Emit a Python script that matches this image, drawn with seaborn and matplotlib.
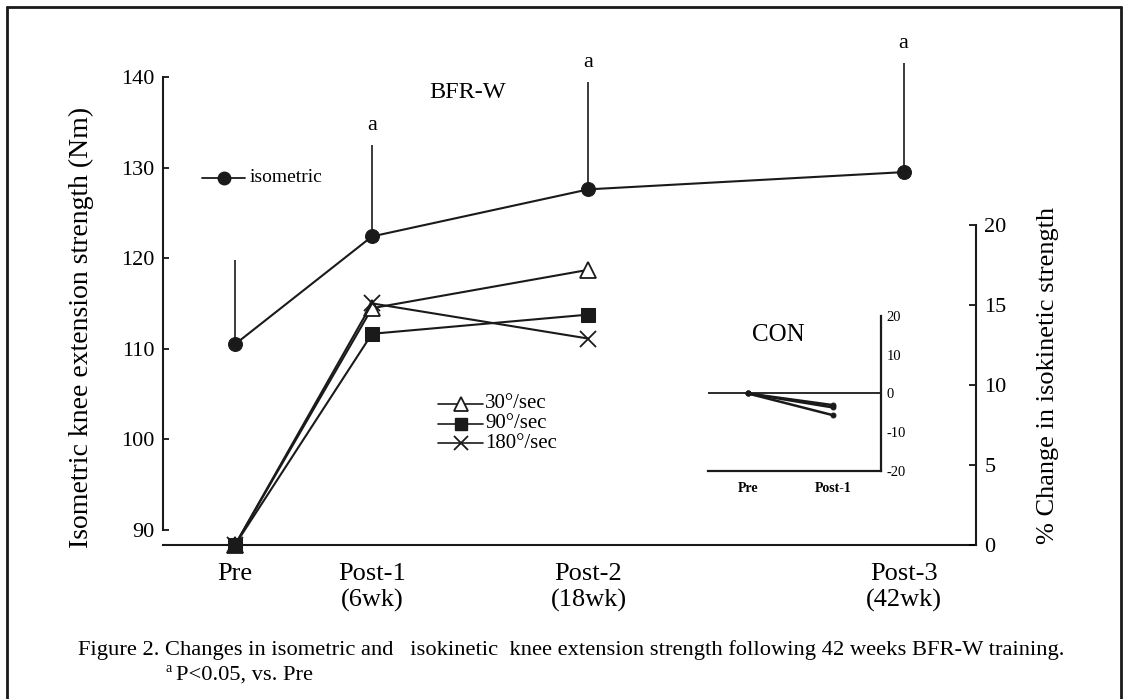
import matplotlib
matplotlib.use("Agg")
import matplotlib.pyplot as plt
from matplotlib.lines import Line2D
import seaborn as sns
import pandas as pd

# ---------------- data ----------------
categories = ["Pre", "Post-1", "Post-2", "Post-3"]
tick_labels = ["Pre", "Post-1\n(6wk)", "Post-2\n(18wk)", "Post-3\n(42wk)"]
x_pos = [0.0, 1.0, 2.58, 4.88]          # category placement along the time axis

iso_mean = [110.5, 122.4, 127.6, 129.5]  # Nm
iso_sd = [9.3, 10.1, 11.9, 12.1]         # upper SD bars
iso_sig = [False, True, True, True]      # "a" P<0.05 vs Pre

kin_labels = ["30°/sec", "90°/sec", "180°/sec"]
kin_30 = [0.0, 14.8, 17.2]               # % change, Pre..Post-2
kin_90 = [0.0, 13.2, 14.4]
kin_180 = [0.0, 15.1, 12.9]

con_categories = ["Pre", "Post-1"]
con_30 = [0.0, -3.0]
con_90 = [0.0, -3.6]
con_180 = [0.0, -5.6]

left_ticks = [90, 100, 110, 120, 130, 140]
right_ticks = [0, 5, 10, 15, 20]
con_ticks = [-20, -10, 0, 10, 20]

# ---------------- styling ----------------
sns.set_theme(style="white")
plt.rcParams["font.family"] = ["Liberation Serif", "DejaVu Serif"]
plt.rcParams["text.color"] = "black"
plt.rcParams["axes.labelcolor"] = "black"
plt.rcParams["xtick.color"] = "black"
plt.rcParams["ytick.color"] = "black"

W, H = 1128, 699
def fx(px):
    return px / W
def fy(py):
    return 1 - py / H

fig = plt.figure(figsize=(W / 100, H / 100), dpi=100)
fig.patch.set_facecolor("white")

# frame border (top, left, right)
fig.add_artist(Line2D([fx(7), fx(1121)], [fy(7), fy(7)], transform=fig.transFigure, color="k", lw=2))
fig.add_artist(Line2D([fx(7), fx(7)], [fy(7), fy(699)], transform=fig.transFigure, color="k", lw=2))
fig.add_artist(Line2D([fx(1121), fx(1121)], [fy(7), fy(699)], transform=fig.transFigure, color="k", lw=2))

# main axes
ax = fig.add_axes([fx(163), fy(545), fx(976) - fx(163), fy(30) - fy(545)])
ax.set_facecolor("none")
px_per_nm = (530 - 77) / 50
ax.set_ylim(90 - 15 / px_per_nm, 140 + 47 / px_per_nm)
ax.set_xlim(0 - 72 / 137, (976 - 235) / 137)

for s in ["top", "right"]:
    ax.spines[s].set_visible(False)
ax.spines["left"].set_bounds(90, 140)
for s in ["left", "bottom"]:
    ax.spines[s].set_color("k")
    ax.spines[s].set_linewidth(1.5)
ax.set_yticks(left_ticks)
ax.tick_params(axis="y", direction="in", length=4, width=1.2, labelsize=16, pad=6, left=True)
ax.set_xticks(x_pos)
ax.set_xticklabels(tick_labels, fontsize=19)
ax.tick_params(axis="x", length=0, pad=13)
for lbl in ax.get_xticklabels():
    lbl.set_linespacing(1.2)

# isometric error bars (upper only)
ax.vlines(x_pos, iso_mean, [m + s for m, s in zip(iso_mean, iso_sd)], color="k", lw=1.2, zorder=2)
for x, m, s, sig in zip(x_pos, iso_mean, iso_sd, iso_sig):
    if sig:
        ax.annotate("a", (x, m + s), xytext=(0, 7), textcoords="offset points",
                    ha="center", va="bottom", fontsize=16)

iso_df = pd.DataFrame({"x": x_pos, "y": iso_mean})
sns.lineplot(data=iso_df, x="x", y="y", ax=ax, color="k", lw=1.5, marker="o", markersize=10,
             markeredgecolor="k", markerfacecolor="k", clip_on=False, zorder=3)
ax.set_xlabel("")
ax.set_ylabel("")

# right axis (isokinetic % change)
ax2 = ax.twinx()
ax2.set_facecolor("none")
ax2.set_ylim(0, (545 - 30) / 16)
for s in ["top", "left", "bottom"]:
    ax2.spines[s].set_visible(False)
ax2.spines["right"].set_bounds(0, 20)
ax2.spines["right"].set_color("k")
ax2.spines["right"].set_linewidth(1.5)
ax2.set_yticks(right_ticks)
ax2.tick_params(axis="y", direction="in", length=5, width=1.2, labelsize=16, pad=6, right=True)

kin_x = x_pos[:3]
kin_series = [kin_30, kin_90, kin_180]
kin_styles = [dict(marker="^", markersize=11, markerfacecolor="white", markeredgecolor="k", markeredgewidth=1.3),
              dict(marker="s", markersize=10, markerfacecolor="k", markeredgecolor="k"),
              dict(marker="x", markersize=11, markeredgecolor="k", markeredgewidth=1.3)]
for vals, st in zip(kin_series, kin_styles):
    d = pd.DataFrame({"x": kin_x, "y": vals})
    sns.lineplot(data=d, x="x", y="y", ax=ax2, color="k", lw=1.5, clip_on=False, zorder=3, **st)
ax2.set_xlabel("")
ax2.set_ylabel("")
ax.set_xlim(0 - 72 / 137, (976 - 235) / 137)

# axis titles
fig.text(fx(81), fy(327), "Isometric knee extension strength (Nm)", rotation=90,
         ha="center", va="center", fontsize=20)
fig.text(fx(1048), fy(375), "% Change in isokinetic strength", rotation=90,
         ha="center", va="center", fontsize=19)
fig.text(fx(468), fy(93), "BFR-W", ha="center", va="center", fontsize=17.5)
fig.text(fx(778), fy(335), "CON", ha="center", va="center", fontsize=18)

# isometric legend
fig.add_artist(Line2D([fx(202), fx(224), fx(245)], [fy(178)] * 3, transform=fig.transFigure,
                      color="k", lw=1.3, marker="o", markersize=9, markevery=[1]))
fig.text(fx(250), fy(178), "isometric", ha="left", va="center", fontsize=14)

# isokinetic legend
for i, (lab, st) in enumerate(zip(kin_labels, kin_styles)):
    yy = 404 + i * 19.5
    st2 = dict(st)
    st2["markersize"] = st2["markersize"] - 1.5
    fig.add_artist(Line2D([fx(438), fx(461), fx(483)], [fy(yy)] * 3, transform=fig.transFigure,
                          color="k", lw=1.2, markevery=[1], **st2))
    fig.text(fx(485), fy(yy), lab, ha="left", va="center", fontsize=15)

# CON inset
ax3 = fig.add_axes([fx(708), fy(471), fx(881) - fx(708), fy(316) - fy(471)])
ax3.set_facecolor("none")
ax3.set_ylim(-20, 20)
ax3.set_xlim(-40 / 85, 133 / 85)
for s in ["top", "left"]:
    ax3.spines[s].set_visible(False)
for s in ["right", "bottom"]:
    ax3.spines[s].set_color("k")
    ax3.spines[s].set_linewidth(1.6)
ax3.axhline(0, color="k", lw=1.3, zorder=1)
ax3.yaxis.tick_right()
ax3.set_yticks(con_ticks)
ax3.set_yticklabels([str(t) for t in con_ticks], fontsize=10.5)
ax3.tick_params(axis="y", length=0, pad=4)
ax3.set_xticks([0, 1])
ax3.set_xticklabels(con_categories, fontsize=10, fontweight="bold")
ax3.tick_params(axis="x", length=0, pad=8)
for vals in [con_30, con_90, con_180]:
    d = pd.DataFrame({"x": [0, 1], "y": vals})
    sns.lineplot(data=d, x="x", y="y", ax=ax3, color="k", lw=1.8, marker="o", markersize=3.5,
                 markeredgecolor="k", zorder=3)
ax3.set_xlabel("")
ax3.set_ylabel("")

# caption
fig.text(fx(78), fy(650), "Figure 2. Changes in isometric and   isokinetic  knee extension strength following 42 weeks BFR-W training.",
         ha="left", va="center", fontsize=16.2)
fig.text(fx(166), fy(668), "a", ha="left", va="center", fontsize=10)
fig.text(fx(176), fy(675), "P<0.05, vs. Pre", ha="left", va="center", fontsize=16.2)

fig.savefig("out.png", dpi=100, facecolor="white")
